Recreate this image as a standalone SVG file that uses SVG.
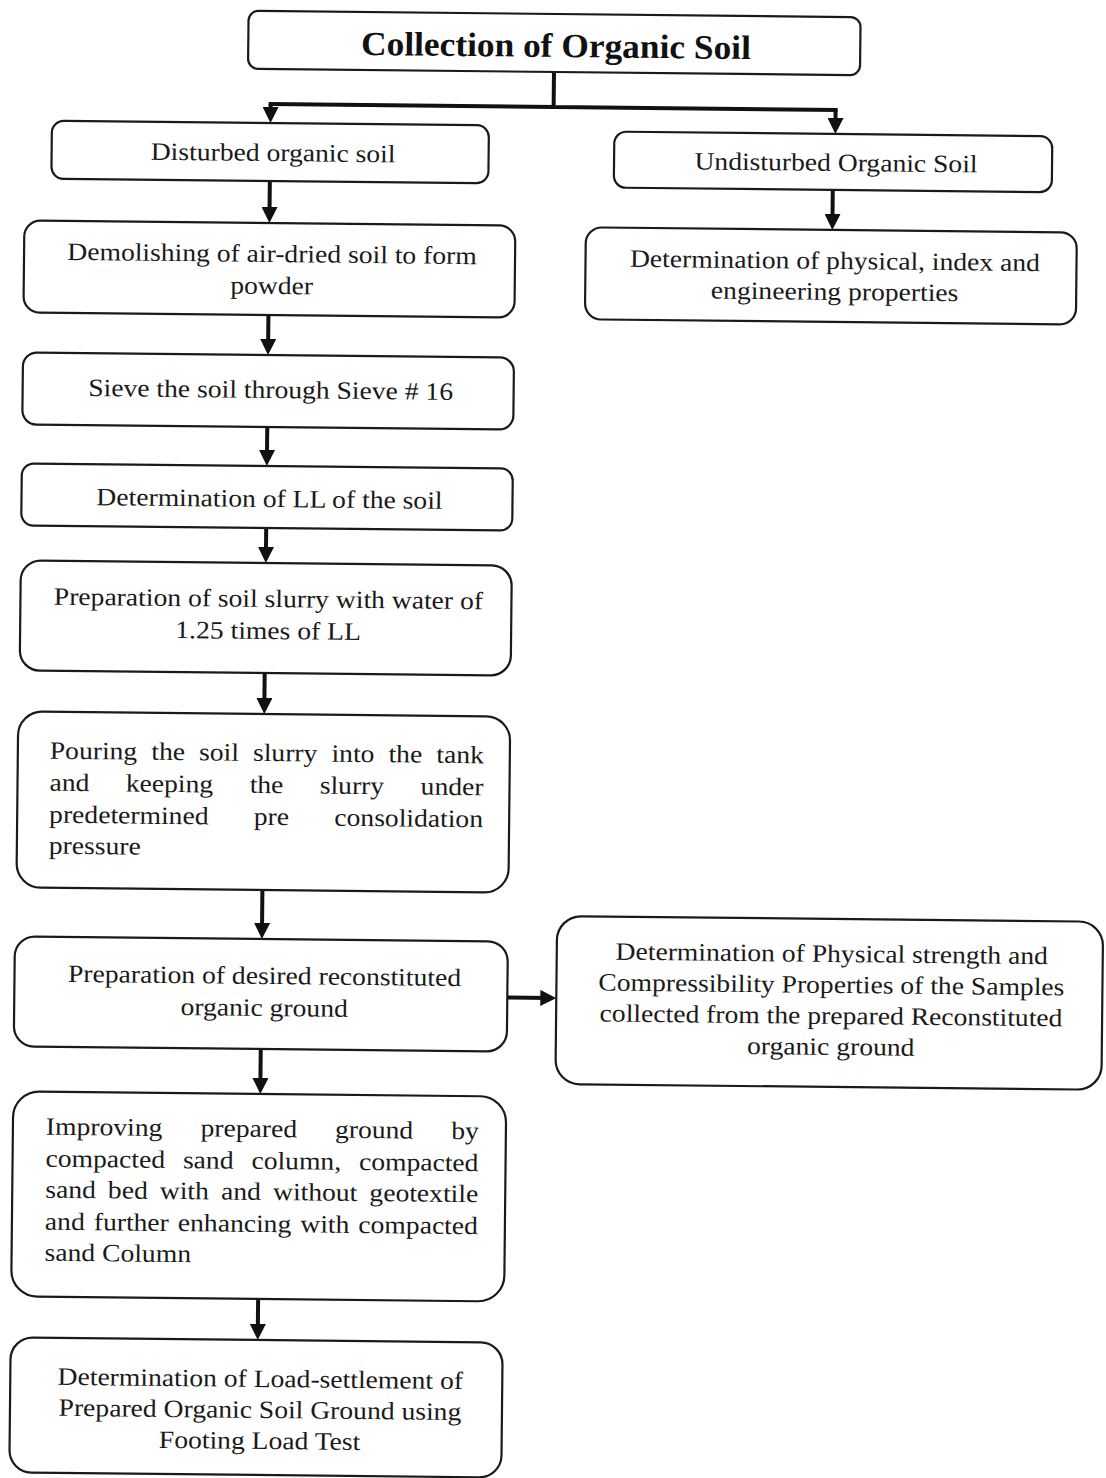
<svg xmlns="http://www.w3.org/2000/svg" width="1106" height="1478" viewBox="0 0 1106 1478">
  <defs>
    <style>
      .box { fill: #ffffff; stroke: #1a1a1a; stroke-width: 2.2; }
      .conn { fill: none; stroke: #111111; stroke-width: 4; }
      .t { font-family: "Liberation Serif", "Times New Roman", serif; font-size: 25px; fill: #1a1a1a; }
      .c { text-anchor: middle; }
      .title { font-family: "Liberation Serif", "Times New Roman", serif; font-size: 34px; font-weight: bold; fill: #111111; text-anchor: middle; }
    </style>
    <marker id="ah" markerUnits="userSpaceOnUse" markerWidth="16" markerHeight="16" viewBox="0 0 16 16" refX="10" refY="8" orient="auto">
      <path d="M0,0 L16,8 L0,16 z" fill="#111111"/>
    </marker>
  </defs>
  <rect width="1106" height="1478" fill="#ffffff"/>
  <g transform="rotate(0.6 553 740)">
    <g id="connectors">
      <path class="conn" d="M547 72 V107 M262 107 H831"/>
      <path class="conn" d="M264 107 V120" marker-end="url(#ah)"/>
      <path class="conn" d="M829 107 V125" marker-end="url(#ah)"/>
      <path class="conn" d="M264 184 V220" marker-end="url(#ah)"/>
      <path class="conn" d="M827 187 V221" marker-end="url(#ah)"/>
      <path class="conn" d="M264 318 V352" marker-end="url(#ah)"/>
      <path class="conn" d="M264 430 V463" marker-end="url(#ah)"/>
      <path class="conn" d="M264 531 V560" marker-end="url(#ah)"/>
      <path class="conn" d="M264 676 V711" marker-end="url(#ah)"/>
      <path class="conn" d="M264 893 V936" marker-end="url(#ah)"/>
      <path class="conn" d="M264 1052 V1091" marker-end="url(#ah)"/>
      <path class="conn" d="M264 1302 V1337" marker-end="url(#ah)"/>
      <path class="conn" d="M510 998 H553" marker-end="url(#ah)"/>
    </g>

    <g id="n-collection">
      <rect class="box" x="241" y="14" width="612" height="58" rx="10"/>
      <g transform="scale(1.04 1)"><text class="title" x="527.6" y="57">Collection of Organic Soil</text></g>
    </g>
    <g id="n-disturbed">
      <rect class="box" x="45.5" y="126" width="437" height="58" rx="12"/>
      <g transform="scale(1.104 1)"><text class="t c" x="241.85" y="164">Disturbed organic soil</text></g>
    </g>
    <g id="n-undisturbed">
      <rect class="box" x="608" y="131" width="438" height="56" rx="12"/>
      <g transform="scale(1.104 1)"><text class="t c" x="751.8" y="168">Undisturbed Organic Soil</text></g>
    </g>
    <g id="n-physical-index">
      <rect class="box" x="580.5" y="227" width="491" height="92" rx="16"/>
      <g transform="scale(1.104 1)"><text class="t c" x="751.8" y="266">Determination of physical, index and<tspan x="751.8" y="297">engineering properties</tspan></text></g>
    </g>
    <g id="n-demolishing">
      <rect class="box" x="19" y="226" width="491" height="92" rx="16"/>
      <g transform="scale(1.104 1)"><text class="t c" x="241.85" y="265">Demolishing of air-dried soil to form<tspan x="241.85" y="297">powder</tspan></text></g>
    </g>
    <g id="n-sieve">
      <rect class="box" x="19" y="358" width="491" height="72" rx="14"/>
      <g transform="scale(1.104 1)"><text class="t c" x="241.85" y="401">Sieve the soil through Sieve # 16</text></g>
    </g>
    <g id="n-ll">
      <rect class="box" x="19" y="469" width="491" height="62" rx="12"/>
      <g transform="scale(1.104 1)"><text class="t c" x="241.85" y="510">Determination of LL of the soil</text></g>
    </g>
    <g id="n-slurry">
      <rect class="box" x="19" y="566" width="491" height="110" rx="20"/>
      <g transform="scale(1.104 1)"><text class="t c" x="241.85" y="610">Preparation of soil slurry with water of<tspan x="241.85" y="642">1.25 times of LL</tspan></text></g>
    </g>
    <g id="n-pouring">
      <rect class="box" x="18" y="717" width="492" height="176" rx="24"/>
      <g transform="scale(1.104 1)">
        <text class="t" y="764"><tspan x="45.29">Pouring</tspan><tspan x="137.23">the</tspan><tspan x="180.53">soil</tspan><tspan x="229.35">slurry</tspan><tspan x="300.45">into</tspan><tspan x="352.08">the</tspan><tspan x="395.38">tank</tspan></text>
        <text class="t" y="796"><tspan x="45.29">and</tspan><tspan x="114.40">keeping</tspan><tspan x="226.63">the</tspan><tspan x="290.13">slurry</tspan><tspan x="381.52">under</tspan></text>
        <text class="t" y="828"><tspan x="45.29">predetermined</tspan><tspan x="230.71">pre</tspan><tspan x="303.62">consolidation</tspan></text>
        <text class="t" x="45.29" y="859">pressure</text>
      </g>
    </g>
    <g id="n-reconstituted">
      <rect class="box" x="17" y="942" width="493" height="110" rx="20"/>
      <g transform="scale(1.104 1)"><text class="t c" x="241.85" y="987">Preparation of desired reconstituted<tspan x="241.85" y="1019">organic ground</tspan></text></g>
    </g>
    <g id="n-physical-strength">
      <rect class="box" x="559" y="916" width="546" height="168" rx="24"/>
      <g transform="scale(1.104 1)"><text class="t c" x="755.4" y="959">Determination of Physical strength and<tspan x="755.4" y="990">Compressibility Properties of the Samples</tspan><tspan x="755.4" y="1021">collected from the prepared Reconstituted</tspan><tspan x="755.4" y="1052">organic ground</tspan></text></g>
    </g>
    <g id="n-improving">
      <rect class="box" x="17" y="1097" width="493" height="205" rx="26"/>
      <g transform="scale(1.104 1)">
        <text class="t" y="1140"><tspan x="45.29">Improving</tspan><tspan x="185.33">prepared</tspan><tspan x="307.16">ground</tspan><tspan x="412.50">by</tspan></text>
        <text class="t" y="1172"><tspan x="45.29">compacted</tspan><tspan x="169.75">sand</tspan><tspan x="231.79">column,</tspan><tspan x="329.17">compacted</tspan></text>
        <text class="t" y="1203"><tspan x="45.29">sand</tspan><tspan x="102.08">bed</tspan><tspan x="149.09">with</tspan><tspan x="204.53">and</tspan><tspan x="251.63">without</tspan><tspan x="338.95">geotextile</tspan></text>
        <text class="t" y="1235"><tspan x="45.29">and</tspan><tspan x="89.58">further</tspan><tspan x="165.76">enhancing</tspan><tspan x="276.63">with</tspan><tspan x="329.26">compacted</tspan></text>
        <text class="t" x="45.29" y="1266">sand Column</text>
      </g>
    </g>
    <g id="n-load-settlement">
      <rect class="box" x="17" y="1343" width="492" height="135" rx="22"/>
      <g transform="scale(1.104 1)"><text class="t c" x="241.85" y="1390">Determination of Load-settlement of<tspan x="241.85" y="1421">Prepared Organic Soil Ground using</tspan><tspan x="241.85" y="1452">Footing Load Test</tspan></text></g>
    </g>
  </g>
</svg>
